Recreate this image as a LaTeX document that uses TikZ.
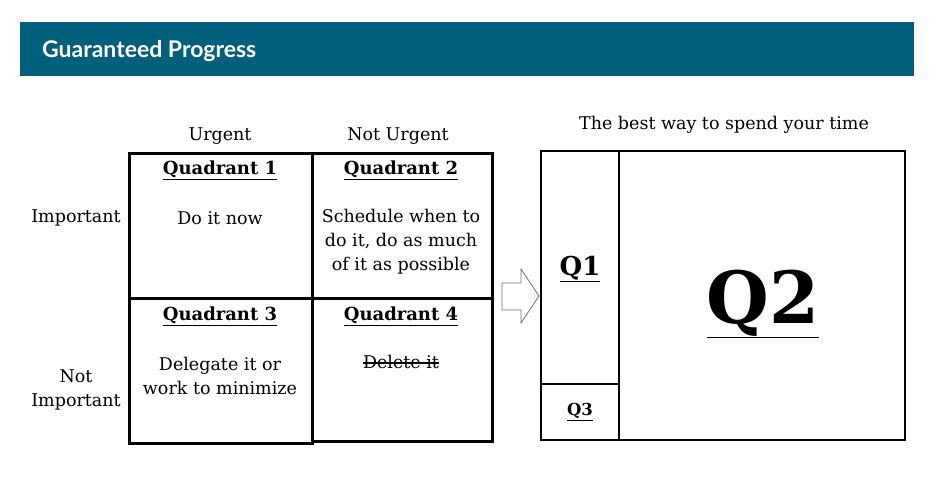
\documentclass[tikz,border=0pt]{standalone}
\usepackage{fontspec}
\setmainfont{DejaVu Serif}
\newfontfamily\headfont{Lato}
\definecolor{headteal}{HTML}{005F7A}
\definecolor{arrowgray}{HTML}{707070}
\begin{document}
\begin{tikzpicture}[x=1pt,y=-1pt,
  cellbox/.style={draw=black,line width=3pt},
  panelbox/.style={draw=black,line width=2.8pt},
  body/.style={font=\fontsize{17.5}{24}\selectfont,align=center,inner sep=0pt,anchor=center},
  qhead/.style={font=\fontsize{18}{24}\selectfont\bfseries,inner sep=0pt,anchor=center},
]
\useasboundingbox (0,0) rectangle (941,480);
% header band
\node[fill=headteal,minimum width=894pt,minimum height=54pt,anchor=north west,inner sep=0pt] (band) at (20,22) {};
\node[anchor=west,text=white,font=\headfont\fontsize{23}{24}\selectfont\bfseries,inner sep=0pt] (title) at (42,51) {Guaranteed Progress};
% grid
\draw[cellbox] (129,153) rectangle (312,298);
\draw[cellbox] (312,153) rectangle (492,298);
\draw[cellbox] (129,298) rectangle (312,443);
\draw[cellbox] (312,298) rectangle (492,441);
% axis labels
\node[body] (urgent) at (220,136) {Urgent};
\node[body] (noturgent) at (398,136) {Not Urgent};
\node[body] (important) at (76,218) {Important};
\node[body] (notimportant) at (76,390) {Not\\Important};
% quadrant texts
\node[qhead] (q1h) at (220,170) {\underline{Quadrant 1}};
\node[body] (q1t) at (220,218) {Do it now};
\node[qhead] (q2h) at (401,170) {\underline{Quadrant 2}};
\node[body] (q2t) at (401,242) {Schedule when to\\do it, do as much\\of it as possible};
\node[qhead] (q3h) at (220,316) {\underline{Quadrant 3}};
\node[body] (q3t) at (220,376) {Delegate it or\\work to minimize};
\node[qhead] (q4h) at (401,316) {\underline{Quadrant 4}};
\node[body] (q4t) at (401,362) {Delete it};
\draw[line width=1.1pt] ([yshift=5.5pt]q4t.base west) -- ([yshift=5.5pt]q4t.base east);
% block arrow
\draw[arrowgray,line width=0.8pt,fill=white] (502,283) -- (521,283) -- (521,269) -- (539,296) -- (521,323) -- (521,310) -- (502,310) -- cycle;
% right panel
\node[body] (best) at (724,125) {The best way to spend your time};
\draw[panelbox] (541,151) rectangle (905,440);
\draw[line width=2.2pt] (619,151) -- (619,440);
\draw[line width=2.2pt] (541,384) -- (619,384);
\node[font=\fontsize{26}{30}\selectfont\bfseries,inner sep=0pt] (q1) at (580,269) {\underline{Q1}};
\node[font=\fontsize{72}{80}\selectfont\bfseries,inner sep=0pt] (q2) at (763,304) {\underline{Q2}};
\node[font=\fontsize{16.5}{18}\selectfont\bfseries,inner sep=0pt] (q3) at (580,412) {\underline{Q3}};
\end{tikzpicture}
\end{document}
